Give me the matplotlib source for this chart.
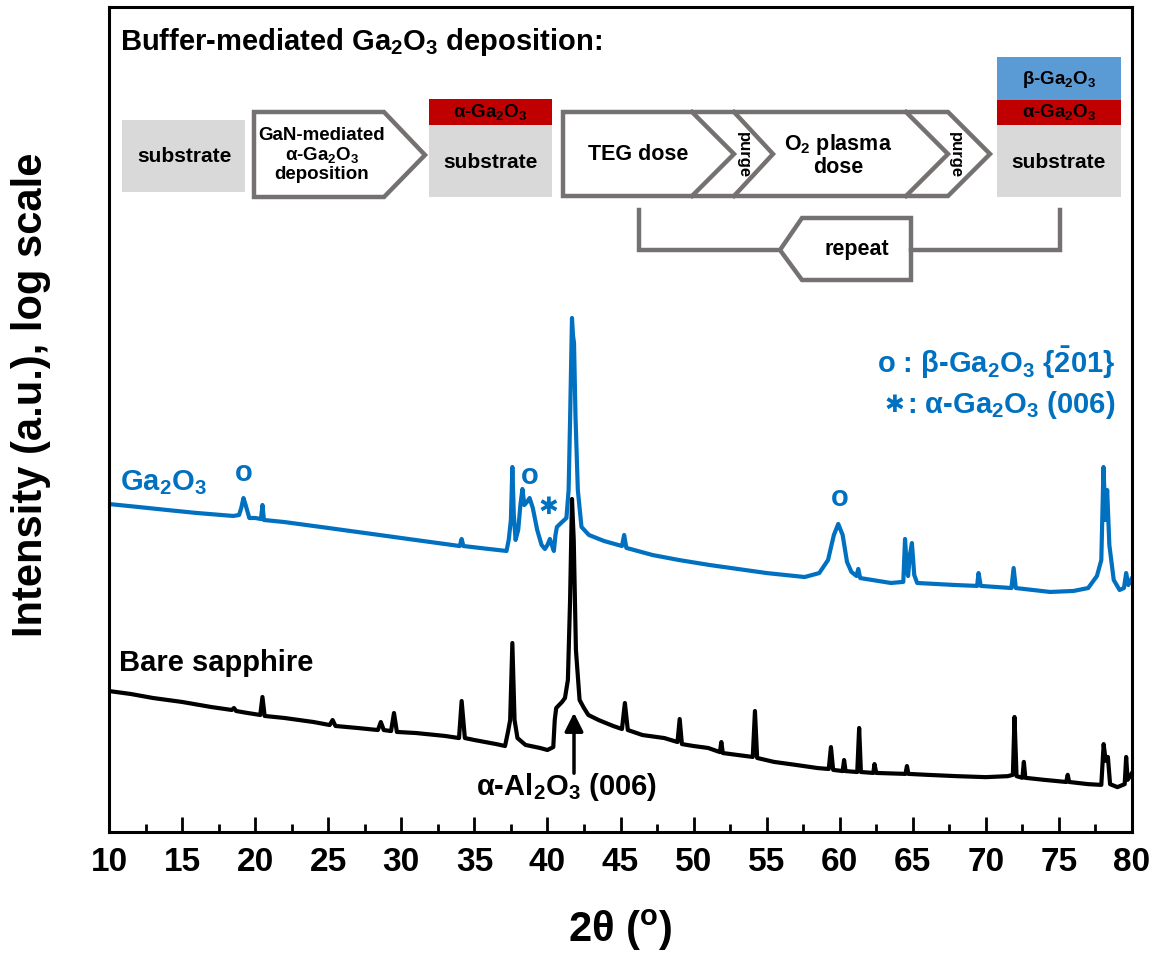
import matplotlib
matplotlib.use("Agg")
import matplotlib.pyplot as plt
from matplotlib.ticker import MultipleLocator, NullLocator
from matplotlib.patches import Polygon, Rectangle

plt.rcParams['font.family'] = ['Liberation Sans', 'DejaVu Sans']
plt.rcParams['font.weight'] = 'bold'
plt.rcParams['mathtext.fontset'] = 'custom'
plt.rcParams['mathtext.rm'] = 'Liberation Sans:bold'
plt.rcParams['mathtext.bf'] = 'Liberation Sans:bold'
plt.rcParams['mathtext.it'] = 'Liberation Sans:bold:italic'
plt.rcParams['mathtext.sf'] = 'Liberation Sans:bold'
plt.rcParams['mathtext.default'] = 'bf'

# XRD scans (2theta in degrees, intensity in a.u., log scale)
theta_sap = [10.0, 11.5, 13.0, 15.0, 17.0, 18.4, 18.55, 18.7, 19.5, 20.35, 20.5, 20.65,
             22.0, 24.0, 25.1, 25.3, 25.5, 27.0, 28.4, 28.6, 28.8, 29.3, 29.5, 29.7,
             31.0, 33.0, 33.95, 34.13, 34.35, 35.0, 36.5, 37.1, 37.3, 37.45, 37.6, 37.75,
             37.95, 38.5, 39.5, 40.0, 40.4, 40.5, 40.6, 41.0, 41.2, 41.4, 41.55, 41.68,
             41.8, 41.95, 42.2, 42.5, 42.8, 43.5, 44.5, 45.1, 45.3, 45.5, 46.5, 48.0,
             48.9, 49.05, 49.2, 50.0, 51.0, 51.8, 51.9, 52.0, 53.0, 54.05, 54.2, 54.35,
             55.5, 57.0, 58.5, 59.25, 59.4, 59.55, 60.2, 60.3, 60.4, 61.2, 61.33, 61.45,
             62.3, 62.38, 62.5, 64.5, 64.6, 64.7, 66.0, 68.0, 70.0, 71.5, 71.85, 71.96,
             72.1, 72.5, 72.6, 72.7, 74.0, 75.5, 75.6, 75.7, 77.0, 77.9, 78.06, 78.2,
             78.35, 78.5, 79.0, 79.5, 79.6, 79.7, 80.0]
int_sap = [71.5, 68.6, 64.9, 61.4, 57.2, 54.9, 56.4, 54.1, 52.6, 51.2, 65.8, 50.5,
           49.1, 46.4, 44.5, 47.7, 43.9, 42.7, 41.5, 46.4, 41.5, 40.9, 52.6, 40.4,
           39.8, 38.2, 37.1, 62.2, 37.1, 36.1, 34.1, 33.2, 40.4, 47.7, 139.8, 47.7,
           37.1, 33.7, 32.3, 31.4, 32.7, 47.7, 56.4, 61.4, 64.9, 83.4, 254.7, 1043,
           588.6, 126.8, 63.1, 56.4, 51.2, 47.7, 43.9, 42.1, 60.5, 41.5, 38.7, 37.1,
           35.1, 48.4, 34.1, 33.2, 32.3, 30.5, 35.1, 30.1, 29.3, 28.5, 54.1, 28.1,
           26.6, 25.5, 24.4, 24.1, 32.7, 23.8, 23.4, 27.3, 23.4, 23.1, 42.7, 23.1,
           22.8, 25.8, 22.8, 22.5, 25.1, 22.5, 22.2, 21.8, 21.5, 21.8, 22.2, 49.8,
           21.8, 21.3, 26.6, 21.3, 20.7, 20.1, 22.2, 20.1, 19.5, 19.3, 34.1, 27.0,
           28.5, 19.5, 18.7, 19.5, 28.5, 20.7, 22.8]

theta_ga = [10.0, 12.0, 14.0, 16.0, 18.5, 18.9, 19.05, 19.2, 19.35, 19.6, 20.0, 20.4,
            20.5, 20.6, 22.0, 25.0, 28.0, 30.0, 32.0, 34.0, 34.13, 34.25, 36.0, 37.2,
            37.35, 37.5, 37.6, 37.7, 37.82, 38.0, 38.15, 38.29, 38.42, 38.6, 38.78, 39.0,
            39.3, 39.6, 39.83, 40.0, 40.17, 40.3, 40.44, 40.55, 40.65, 41.0, 41.3, 41.45,
            41.55, 41.68, 41.75, 41.82, 41.92, 42.08, 42.33, 42.84, 43.88, 45.1, 45.25, 45.4,
            47.2, 49.0, 51.1, 53.0, 55.0, 57.6, 58.6, 59.2, 59.6, 59.9, 60.2, 60.5,
            60.8, 61.15, 61.27, 61.4, 63.5, 64.35, 64.47, 64.6, 64.68, 64.8, 64.94, 65.1,
            65.3, 67.9, 69.4, 69.5, 69.65, 71.75, 71.9, 72.05, 74.4, 76.0, 77.0, 77.6,
            77.9, 78.05, 78.18, 78.3, 78.45, 78.75, 79.15, 79.45, 79.6, 79.75, 80.0]
int_ga = [972, 933, 894, 858, 823, 834, 920, 1057, 959, 800, 800, 789,
          959, 778, 756, 696, 640, 605, 572, 541, 597, 541, 519, 505,
          589, 778, 1630, 834, 589, 677, 959, 1199, 959, 1000, 1057, 920,
          677, 549, 519, 549, 597, 549, 505, 631, 706, 756, 800, 1182,
          3141, 13040, 10200, 9196, 3300, 1182, 706, 631, 580, 541, 631, 527,
          477, 445, 415, 393, 371, 351, 371, 445, 631, 736, 631, 433,
          377, 356, 393, 346, 323, 328, 597, 387, 356, 477, 564, 361,
          323, 314, 310, 371, 310, 301, 398, 301, 285, 289, 301, 356,
          445, 1630, 778, 1182, 549, 337, 293, 301, 371, 314, 346]

xticks = [10, 15, 20, 25, 30, 35, 40, 45, 50, 55, 60, 65, 70, 75, 80]

blue = '#0070C0'
edge = '#767171'
grey = '#D9D9D9'
red = '#C00000'
lightblue = '#5B9BD5'

W, H = 1156, 957
fig = plt.figure(figsize=(W / 100, H / 100), dpi=100)
ax = fig.add_axes([109 / W, 1 - 832 / H, 1023 / W, 825 / H])

ax.plot(theta_sap, int_sap, color='k', lw=3)
ax.plot(theta_ga, int_ga, color=blue, lw=3)

ax.set_yscale('log')
ax.set_ylim(10, 1e6)
ax.set_xlim(10, 80)
ax.yaxis.set_major_locator(NullLocator())
ax.yaxis.set_minor_locator(NullLocator())
ax.set_xticks(xticks)
ax.xaxis.set_minor_locator(MultipleLocator(2.5))
ax.tick_params(axis='x', which='both', direction='in', top=False, width=2, pad=11,
               labelsize=24)
ax.tick_params(axis='x', which='major', length=11)
ax.tick_params(axis='x', which='minor', length=6)
for s in ax.spines.values():
    s.set_linewidth(2.2)

# overlay in pixel coordinates for labels and the process schematic
ov = fig.add_axes([0, 0, 1, 1], zorder=5)
ov.set_xlim(0, W)
ov.set_ylim(H, 0)
ov.axis('off')

ov.text(620, 942, r'2θ ($^{o}$)', fontsize=30, ha='center', va='baseline')
ov.text(31, 395, 'Intensity (a.u.), log scale', fontsize=30, rotation=90,
        ha='center', va='center')

# curve annotations
ov.text(120, 483, 'Ga$_2$O$_3$', color=blue, fontsize=21, ha='left', va='center')
for xo, yo in [(244, 473), (530, 476), (840, 498)]:
    ov.text(xo, yo, 'o', color=blue, fontsize=21, ha='center', va='center')
ov.text(548, 507, '✱', color=blue, fontsize=17, ha='center', va='center',
        family='DejaVu Sans')
ov.text(1115, 363, r'o : β-Ga$_2$O$_3$ {$\bar{2}$01}', color=blue, fontsize=21,
        ha='right', va='center')
ov.text(1115, 405, ': α-Ga$_2$O$_3$ (006)', color=blue, fontsize=21,
        ha='right', va='center')
ov.text(894, 405, '✱', color=blue, fontsize=17, ha='center', va='center',
        family='DejaVu Sans')
ov.text(119, 663, 'Bare sapphire', color='k', fontsize=21, ha='left', va='center')
ov.text(566, 787, 'α-Al$_2$O$_3$ (006)', color='k', fontsize=21, ha='center', va='center')
ov.annotate('', xy=(574, 710), xytext=(574, 776),
            arrowprops=dict(arrowstyle='-|>', lw=2.5, color='k', mutation_scale=28))

# schematic
ov.text(120, 42, 'Buffer-mediated Ga$_2$O$_3$ deposition:', fontsize=21,
        ha='left', va='center')

def box(x, y, w, h, c):
    ov.add_patch(Rectangle((x, y), w, h, facecolor=c, edgecolor='none'))

def shape(pts):
    ov.add_patch(Polygon(pts, closed=True, facecolor='white', edgecolor=edge,
                         lw=3.2, joinstyle='miter'))

def line(pts):
    ov.plot([p[0] for p in pts], [p[1] for p in pts], color=edge, lw=3.2,
            solid_joinstyle='miter')

box(122, 120, 123, 72, grey)
ov.text(184, 156, 'substrate', fontsize=15, ha='center', va='center')

shape([(254, 112), (384, 112), (425, 155), (384, 197), (254, 197)])
ov.text(322, 155, 'GaN-mediated\nα-Ga$_2$O$_3$\ndeposition', fontsize=13.5,
        ha='center', va='center', linespacing=1.05)

box(429, 99, 123, 26, red)
box(429, 125, 123, 72, grey)
ov.text(490, 112, 'α-Ga$_2$O$_3$', fontsize=13.5, ha='center', va='center')
ov.text(490, 162, 'substrate', fontsize=15, ha='center', va='center')

shape([(563, 112), (948, 112), (990, 154), (948, 196), (563, 196)])
line([(692, 112), (734, 154), (692, 196)])
line([(734, 112), (773, 154), (734, 196)])
line([(906, 112), (948, 154), (906, 196)])
ov.text(638, 155, 'TEG dose', fontsize=15.5, ha='center', va='center')
ov.text(743, 155, 'purge', fontsize=12, ha='center', va='center', rotation=-90)
ov.text(838, 155, 'O$_2$ plasma\ndose', fontsize=15.5, ha='center', va='center',
        linespacing=1.05)
ov.text(955, 155, 'purge', fontsize=12, ha='center', va='center', rotation=-90)

box(997, 57, 124, 43, lightblue)
box(997, 100, 124, 25, red)
box(997, 125, 124, 72, grey)
ov.text(1059, 79, 'β-Ga$_2$O$_3$', fontsize=13.5, ha='center', va='center')
ov.text(1059, 112, 'α-Ga$_2$O$_3$', fontsize=13.5, ha='center', va='center')
ov.text(1059, 162, 'substrate', fontsize=15, ha='center', va='center')

line([(639, 210), (639, 250), (780, 250)])
line([(911, 250), (1060, 250), (1060, 210)])
shape([(780, 250), (802, 218), (911, 218), (911, 280), (802, 280)])
ov.text(857, 250, 'repeat', fontsize=15.5, ha='center', va='center')

fig.savefig('out.png', dpi=100)
